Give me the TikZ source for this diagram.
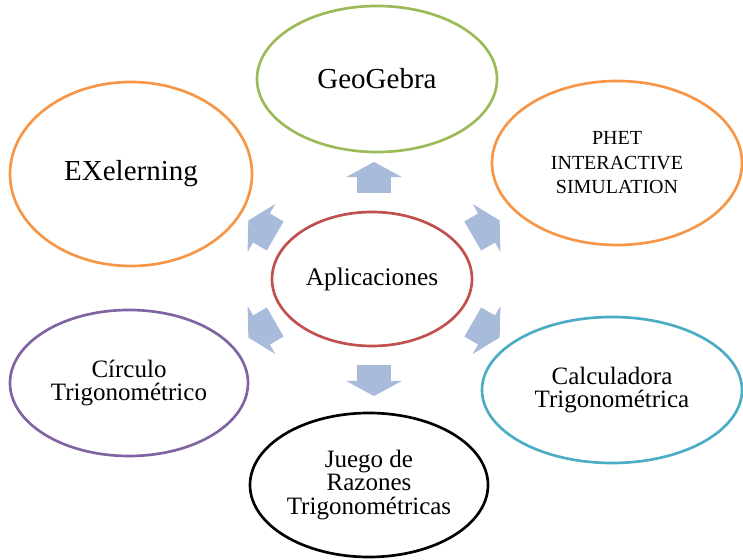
\documentclass[tikz,border=0pt]{standalone}
\usepackage{xcolor}
\usepackage{fontspec}
\setmainfont{Liberation Serif}
\usepackage{tikz}
\usetikzlibrary{shapes.geometric, shapes.arrows}

\definecolor{redline}{RGB}{192,80,77}
\definecolor{greenline}{RGB}{155,187,89}
\definecolor{orangeline}{RGB}{247,150,70}
\definecolor{purpleline}{RGB}{128,100,162}
\definecolor{aqualine}{RGB}{75,172,198}
\definecolor{arrowblue}{RGB}{168,187,219}

\begin{document}
\begin{tikzpicture}[x=0.75pt, y=0.75pt]
			\tikzstyle{bubble} = [ellipse, draw, line width=2pt, inner sep=0pt, align=center, text=black, font=\fontsize{18.75}{17.5}\selectfont]
			
			\tikzstyle{blockarrow} = [single arrow, fill=arrowblue, draw=none, inner xsep=0pt, inner ysep=12.4pt, outer sep=0pt, minimum height=23.25pt, single arrow head extend=8.25pt, single arrow tip angle=123]
			
			\useasboundingbox (0,0) rectangle (743,560);
			
			% Centre of the figure
			\node (apps) [bubble, draw=redline, minimum width=150pt, minimum height=100.5pt, font=\fontsize{19}{22}\selectfont] at (372,281) {Aplicaciones};
			
  		% Outer nodes
  		\node (geo) [bubble, draw=greenline, minimum width=180pt, minimum height=109.5pt, font=\fontsize{21.75}{24}\selectfont] at (377,481) {GeoGebra};
  		\node (exe) [bubble, draw=orangeline, minimum width=181.5pt, minimum height=138pt, font=\fontsize{21.75}{24}\selectfont] at (131,386) {EXelerning};
  		\node (phet) [bubble, draw=orangeline, minimum width=187.5pt, minimum height=123pt, font=\fontsize{15}{18.4}\selectfont] at (617,397) {PHET\\INTERACTIVE\\SIMULATION};
  		\node (circ) [bubble, draw=purpleline, minimum width=178.5pt, minimum height=109.5pt] at (129,177) {Círculo\\Trigonométrico};
  		\node (calc) [bubble, draw=aqualine, minimum width=195pt, minimum height=109.5pt] at (612,170) {Calculadora\\Trigonométrica};
  		\node (juego) [bubble, draw=black, minimum width=178.5pt, minimum height=108pt] at (369,75) {Juego de\\Razones\\Trigonométricas};
  		
  		% Arrows
  		\foreach \a [count=\i] in {90,150,210,270,330,30}
  			\node (arr\i) [blockarrow, rotate=\a] at ([shift={(\a:125 and 97)}]374,281) {};
		\end{tikzpicture}
\end{document}
